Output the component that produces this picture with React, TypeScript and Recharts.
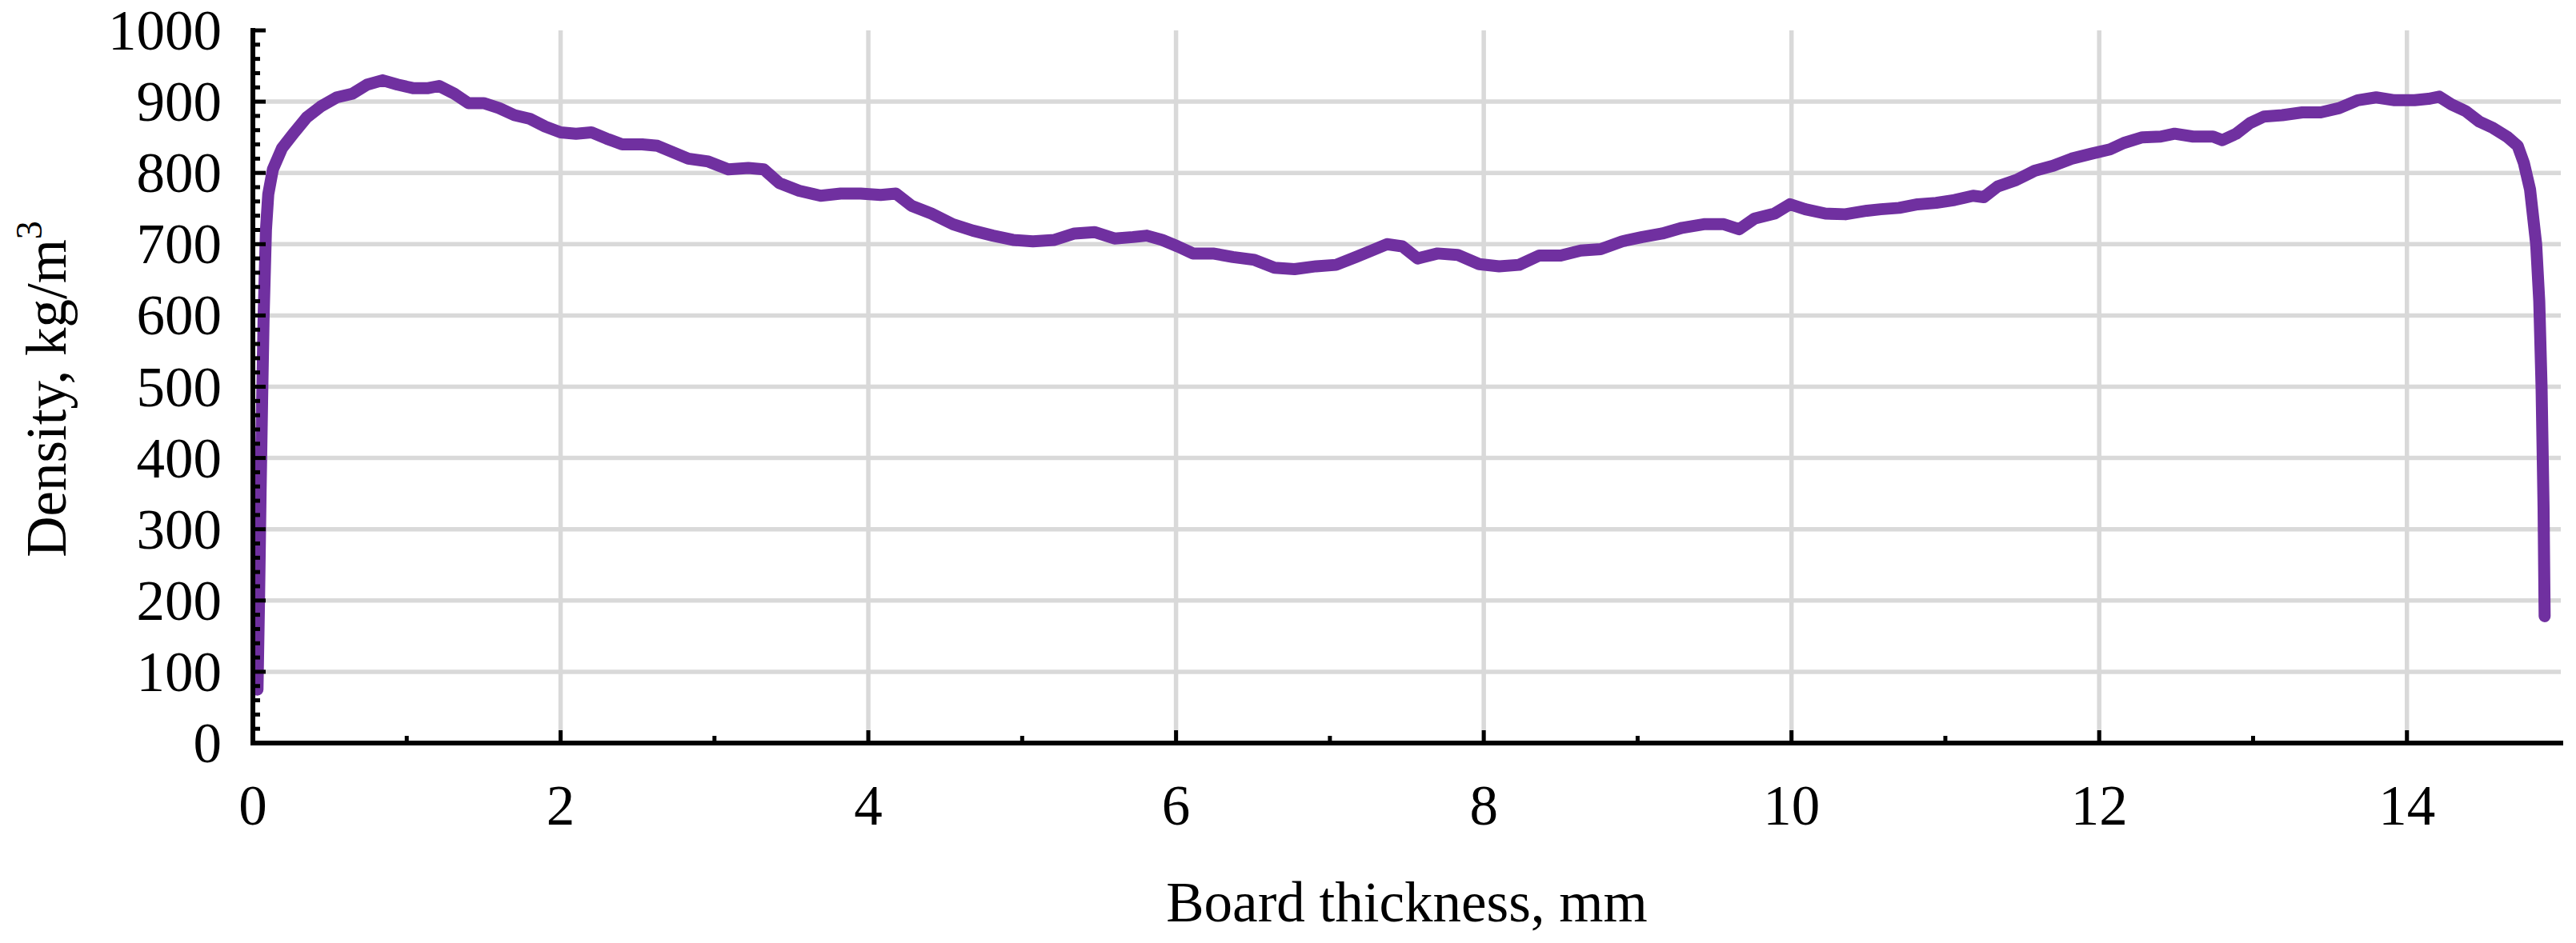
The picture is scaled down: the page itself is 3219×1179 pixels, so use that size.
import React from 'react';
import { LineChart, Line, XAxis, YAxis, CartesianGrid, Label } from 'recharts';

// Board thickness (mm) and density (kg/m3)
const thicknessMm = [
  0.03, 0.04, 0.05, 0.06, 0.07, 0.085, 0.1, 0.13, 0.19, 0.27, 0.35, 0.44, 0.545, 0.645, 0.744, 0.843, 0.94,
  1.04, 1.14, 1.21, 1.31, 1.4, 1.5, 1.6, 1.7, 1.8, 1.9, 2.0, 2.1, 2.2, 2.3, 2.4, 2.53, 2.63, 2.73, 2.83, 2.96,
  3.09, 3.22, 3.32, 3.42, 3.55, 3.69, 3.82, 3.95, 4.08, 4.18, 4.28, 4.41, 4.55, 4.68, 4.81, 4.94, 5.07, 5.21,
  5.34, 5.47, 5.6, 5.72, 5.81, 5.91, 6.01, 6.11, 6.24, 6.37, 6.51, 6.64, 6.77, 6.91, 7.04, 7.17, 7.27, 7.37,
  7.47, 7.57, 7.7, 7.83, 7.97, 8.1, 8.23, 8.36, 8.5, 8.63, 8.76, 8.9, 9.03, 9.16, 9.29, 9.43, 9.56, 9.66,
  9.76, 9.89, 9.99, 10.09, 10.22, 10.35, 10.49, 10.58, 10.7, 10.82, 10.94, 11.06, 11.18, 11.25, 11.34, 11.46,
  11.58, 11.7, 11.82, 11.95, 12.07, 12.16, 12.28, 12.4, 12.49, 12.61, 12.74, 12.8, 12.89, 12.98, 13.07, 13.19,
  13.32, 13.44, 13.56, 13.68, 13.8, 13.92, 14.05, 14.14, 14.21, 14.29, 14.38, 14.47, 14.56, 14.65, 14.72,
  14.76, 14.8, 14.84, 14.86, 14.875, 14.888, 14.895,
];
const densityKgM3 = [
  75, 200, 350, 480, 600, 720, 770, 805, 835, 857, 878, 893, 906, 911, 924, 930, 924,
  919, 919, 922, 911, 898, 898, 891, 881, 876, 865, 857, 855, 857, 848, 840, 840, 838, 829, 820, 816,
  805, 807, 805, 786, 775, 768, 771, 771, 769, 771, 754, 743, 728, 719, 712, 706, 704, 706,
  715, 717, 708, 710, 712, 706, 697, 687, 687, 682, 678, 667, 665, 669, 671, 682, 691, 700,
  697, 680, 687, 685, 672, 669, 671, 684, 684, 691, 693, 704, 710, 715, 723, 728, 728, 721,
  736, 743, 756, 749, 743, 742, 747, 749, 751, 756, 758, 762, 768, 766, 781, 790,
  803, 810, 820, 827, 833, 842, 850, 851, 855, 851, 851, 846, 855, 870, 879, 881,
  885, 885, 891, 902, 906, 902, 902, 904, 907, 896, 887, 872, 863, 851, 838,
  814, 777, 700, 620, 500, 330, 178,
];

const xTicks = [0, 1, 2, 3, 4, 5, 6, 7, 8, 9, 10, 11, 12, 13, 14];
const xMajorTicks = [0, 2, 4, 6, 8, 10, 12, 14];
const xGridValues = [2, 4, 6, 8, 10, 12, 14];
const yTicks = [
  0, 20, 40, 60, 80, 100, 120, 140, 160, 180, 200, 220, 240, 260, 280, 300, 320, 340, 360, 380, 400,
  420, 440, 460, 480, 500, 520, 540, 560, 580, 600, 620, 640, 660, 680, 700, 720, 740, 760, 780, 800,
  820, 840, 860, 880, 900, 920, 940, 960, 980, 1000,
];
const yMajorTicks = [0, 100, 200, 300, 400, 500, 600, 700, 800, 900, 1000];
const yGridValues = [100, 200, 300, 400, 500, 600, 700, 800, 900];

const data = thicknessMm.map((x, i) => ({ x, y: densityKgM3[i] }));

const FONT = '"Liberation Serif", "Times New Roman", Times, serif';
const FS = 71;
const TICK_W = 5;
const MAJOR_LEN = 16;
const MINOR_LEN = 9;

const BottomTick = (props: any) => {
  const { x, y, payload } = props;
  const v = payload.value;
  const major = xMajorTicks.includes(v);
  return (
    <g>
      <line x1={x} x2={x} y1={y} y2={y - (major ? MAJOR_LEN : MINOR_LEN)} stroke="#000" strokeWidth={TICK_W} />
      {major && (
        <text x={x} y={y + 102} textAnchor="middle" fontFamily={FONT} fontSize={FS} fill="#000">
          {v}
        </text>
      )}
    </g>
  );
};

const TopTick = (props: any) => {
  const { x, y, payload } = props;
  const major = xMajorTicks.includes(payload.value);
  return <line x1={x} x2={x} y1={y} y2={y + (major ? MAJOR_LEN : MINOR_LEN)} stroke="#000" strokeWidth={TICK_W} />;
};

const LeftTick = (props: any) => {
  const { x, y, payload } = props;
  const v = payload.value;
  const major = yMajorTicks.includes(v);
  return (
    <g>
      <line x1={x} x2={x + (major ? MAJOR_LEN : MINOR_LEN)} y1={y} y2={y} stroke="#000" strokeWidth={TICK_W} />
      {major && (
        <text x={x - 39} y={y + 24} textAnchor="end" fontFamily={FONT} fontSize={FS} fill="#000">
          {v}
        </text>
      )}
    </g>
  );
};

const RightTick = (props: any) => {
  const { x, y, payload } = props;
  const major = yMajorTicks.includes(payload.value);
  return <line x1={x} x2={x - (major ? MAJOR_LEN : MINOR_LEN)} y1={y} y2={y} stroke="#000" strokeWidth={TICK_W} />;
};

const XTitle = (props: any) => {
  const vb = props.viewBox || {};
  const cx = vb.x + vb.width / 2;
  return (
    <text x={cx} y={vb.y + 223} textAnchor="middle" fontFamily={FONT} fontSize={FS} fill="#000">
      Board thickness, mm
    </text>
  );
};

const YTitle = (props: any) => {
  const vb = props.viewBox || {};
  const cx = vb.x + 82;
  const cy = vb.y + vb.height / 2 + 3;
  return (
    <text
      x={cx}
      y={cy}
      transform={`rotate(-90 ${cx} ${cy})`}
      textAnchor="middle"
      fontFamily={FONT}
      fontSize={FS}
      fill="#000"
    >
      Density, kg/m
      <tspan dy={-30} fontSize={46}>3</tspan>
    </text>
  );
};

const axisLine = { stroke: '#000', strokeWidth: 6, strokeLinecap: 'square' as const };

export default function App() {
  return (
    <div style={{ position: 'absolute', left: 0, top: 0, width: 3219, height: 1179, background: '#fff' }}>
      <LineChart width={3219} height={1179} data={data} margin={{ top: 38, right: 19, bottom: 0, left: 0 }}>
        <CartesianGrid
          stroke="#d9d9d9"
          strokeWidth={5.5}
          horizontalValues={yGridValues}
          verticalValues={xGridValues}
        />
        <XAxis
          dataKey="x"
          type="number"
          domain={[0, 15]}
          ticks={xTicks}
          interval={0}
          height={250}
          tickSize={0}
          tickMargin={0}
          tickLine={false}
          axisLine={axisLine}
          tick={<BottomTick />}
          label={<Label content={<XTitle />} />}
        />
        <XAxis
          xAxisId="top"
          orientation="top"
          dataKey="x"
          type="number"
          domain={[0, 15]}
          ticks={xTicks}
          interval={0}
          height={0}
          tickSize={0}
          tickMargin={0}
          tickLine={false}
          axisLine={axisLine}
          tick={<TopTick />}
        />
        <YAxis
          type="number"
          domain={[0, 1000]}
          ticks={yTicks}
          interval={0}
          width={316}
          tickSize={0}
          tickMargin={0}
          tickLine={false}
          axisLine={axisLine}
          tick={<LeftTick />}
          label={<Label content={<YTitle />} />}
        />
        <YAxis
          yAxisId="right"
          orientation="right"
          type="number"
          domain={[0, 1000]}
          ticks={yTicks}
          interval={0}
          width={0}
          tickSize={0}
          tickMargin={0}
          tickLine={false}
          axisLine={axisLine}
          tick={<RightTick />}
        />
        <Line
          type="linear"
          dataKey="y"
          stroke="#7030A0"
          strokeWidth={15}
          strokeLinecap="round"
          strokeLinejoin="round"
          dot={false}
          activeDot={false}
          isAnimationActive={false}
        />
      </LineChart>
    </div>
  );
}
